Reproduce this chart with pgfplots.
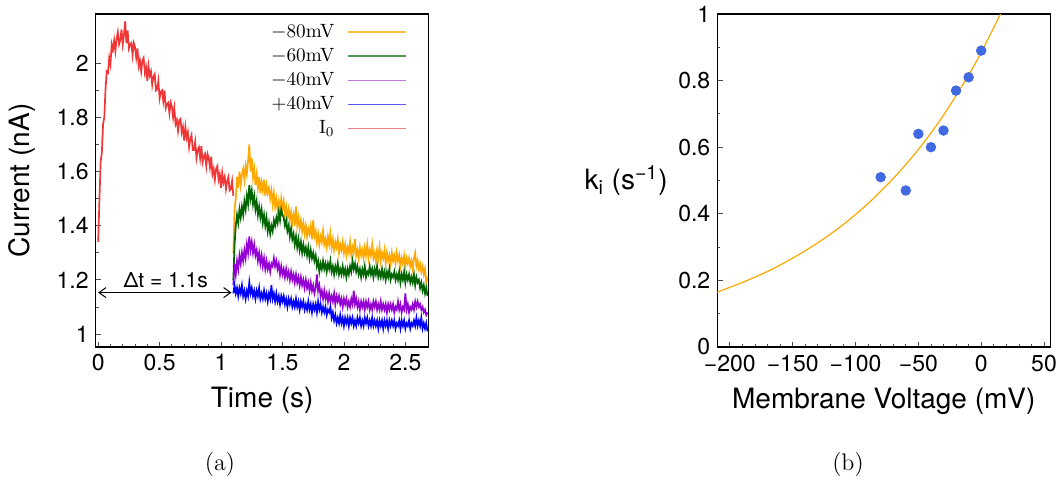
\documentclass[border=0pt]{standalone}
\usepackage{fontspec}
\setmainfont{TeX Gyre Heros}
\newfontfamily\lmr{Latin Modern Roman}
\usepackage{pgfplots}
\pgfplotsset{compat=1.18}
\usetikzlibrary{arrows.meta}

\definecolor{corange}{RGB}{255,168,0}
\definecolor{cgreen}{RGB}{0,100,0}
\definecolor{cpurple}{RGB}{148,0,211}
\definecolor{cblue}{RGB}{0,0,255}
\definecolor{cred}{RGB}{240,55,55}
\definecolor{cdot}{RGB}{65,105,225}
% lighter tones used for the legend samples
\definecolor{lorange}{RGB}{255,190,60}
\definecolor{lgreen}{RGB}{85,150,85}
\definecolor{lpurple}{RGB}{190,120,230}
\definecolor{lblue}{RGB}{90,90,240}
\definecolor{lred}{RGB}{240,130,130}

\pgfplotsset{
  panel/.style={
    scale only axis, width=166.5pt, height=166.5pt,
    anchor=south west,
    axis line style={line width=0.6pt},
    tick align=inside, xtick pos=lower, ytick pos=left,
    major tick length=2.6pt, minor tick length=1.5pt,
    tick style={line width=0.4pt, black!70},
    /pgf/number format/assume math mode=true,
    tick label style={font=\fontsize{11.5}{12}\selectfont},
    label style={font=\fontsize{14}{15}\selectfont},
  },
}

\begin{document}
\begin{tikzpicture}
\useasboundingbox (0,0) rectangle (531.5pt,246.5pt);

% (a) current traces
\begin{axis}[panel, at={(47.85pt,73pt)},
  xmin=-0.02, xmax=2.69, ymin=0.952, ymax=2.182,
  xtick={0,0.5,1,1.5,2,2.5}, minor x tick num=4,
  ytick={1,1.2,1.4,1.6,1.8,2}, minor y tick num=1,
  xlabel={Time (s)}, ylabel={Current (nA)},
  xlabel style={at={(axis description cs:0.5,0)}, anchor=center, yshift=-26.5pt},
  ylabel style={at={(axis description cs:0,0.5)}, anchor=center, yshift=36.6pt},
  legend style={draw=none, fill=none, at={(axis description cs:0.935,0.978)},
    anchor=north east, font=\lmr\fontsize{9.6}{10}\selectfont,
    inner sep=0pt, row sep=1.6pt, column sep=5pt, nodes={inner sep=1.2pt}},
  legend cell align=right, legend plot pos=right,
  legend image post style={xscale=1.7, line width=0.8pt},
  every axis plot/.append style={line width=0.85pt},
]
% I0
\addplot[cred, forget plot] coordinates {
(0.00,1.34)(0.01,1.49)(0.02,1.635)(0.03,1.67)(0.04,1.775)(0.05,1.80)(0.06,1.905)(0.07,1.97)(0.08,1.965)(0.09,2.02)
(0.10,1.995)(0.11,2.07)(0.12,2.05)(0.13,2.085)(0.14,2.045)(0.15,2.09)(0.16,2.115)(0.17,2.07)(0.18,2.085)(0.19,2.125)
(0.20,2.07)(0.21,2.105)(0.22,2.155)(0.23,2.075)(0.24,2.12)(0.25,2.055)(0.26,2.07)(0.27,2.075)(0.28,2.03)(0.29,2.075)
(0.30,2.06)(0.31,2.02)(0.32,2.055)(0.33,1.99)(0.34,2.01)(0.35,1.97)(0.36,2.01)(0.37,2.02)(0.38,1.965)(0.39,1.985)
(0.40,1.935)(0.41,1.99)(0.42,1.955)(0.43,1.97)(0.44,1.92)(0.45,1.95)(0.46,1.96)(0.47,1.90)(0.48,1.905)(0.49,1.935)
(0.50,1.87)(0.51,1.895)(0.52,1.90)(0.53,1.86)(0.54,1.90)(0.55,1.835)(0.56,1.85)(0.57,1.855)(0.58,1.815)(0.59,1.855)
(0.60,1.84)(0.61,1.80)(0.62,1.835)(0.63,1.775)(0.64,1.79)(0.65,1.75)(0.66,1.79)(0.67,1.795)(0.68,1.745)(0.69,1.765)
(0.70,1.715)(0.71,1.765)(0.72,1.725)(0.73,1.745)(0.74,1.69)(0.75,1.72)(0.76,1.735)(0.77,1.68)(0.78,1.68)(0.79,1.71)
(0.80,1.65)(0.81,1.68)(0.82,1.69)(0.83,1.65)(0.84,1.695)(0.85,1.635)(0.86,1.655)(0.87,1.665)(0.88,1.62)(0.89,1.665)
(0.90,1.65)(0.91,1.615)(0.92,1.655)(0.93,1.59)(0.94,1.61)(0.95,1.57)(0.96,1.61)(0.97,1.62)(0.98,1.57)(0.99,1.59)
(1.00,1.54)(1.01,1.595)(1.02,1.56)(1.03,1.58)(1.04,1.535)(1.05,1.565)(1.06,1.58)(1.07,1.53)(1.08,1.535)(1.09,1.565)
(1.10,1.51)};
% -80 mV
\addplot[corange, forget plot] coordinates {
(1.10,1.30)(1.11,1.46)(1.12,1.50)(1.13,1.58)(1.14,1.54)(1.15,1.60)(1.16,1.55)(1.17,1.59)(1.18,1.61)(1.19,1.57)
(1.20,1.62)(1.21,1.59)(1.22,1.64)(1.23,1.70)(1.24,1.60)(1.25,1.65)(1.26,1.58)(1.27,1.61)(1.28,1.55)(1.29,1.59)
(1.30,1.54)(1.31,1.58)(1.32,1.52)(1.33,1.56)(1.34,1.53)(1.35,1.57)(1.36,1.51)(1.37,1.55)(1.38,1.52)(1.39,1.54)
(1.40,1.50)(1.41,1.53)(1.42,1.48)(1.43,1.52)(1.44,1.47)(1.45,1.50)(1.46,1.46)(1.47,1.49)(1.48,1.45)(1.49,1.50)
(1.50,1.46)(1.51,1.49)(1.52,1.44)(1.53,1.47)(1.54,1.43)(1.55,1.46)(1.56,1.42)(1.57,1.45)(1.58,1.41)(1.59,1.44)
(1.60,1.40)(1.61,1.47)(1.62,1.40)(1.63,1.43)(1.64,1.39)(1.65,1.42)(1.66,1.38)(1.67,1.41)(1.68,1.37)(1.69,1.40)
(1.70,1.36)(1.71,1.39)(1.72,1.37)(1.73,1.40)(1.74,1.35)(1.75,1.42)(1.76,1.36)(1.77,1.38)(1.78,1.34)(1.79,1.37)
(1.80,1.33)(1.81,1.36)(1.82,1.34)(1.83,1.38)(1.84,1.33)(1.85,1.35)(1.86,1.32)(1.87,1.36)(1.88,1.33)(1.89,1.37)
(1.90,1.32)(1.91,1.35)(1.92,1.31)(1.93,1.34)(1.94,1.32)(1.95,1.35)(1.96,1.30)(1.97,1.33)(1.98,1.31)(1.99,1.34)
(2.00,1.30)(2.01,1.33)(2.02,1.29)(2.03,1.32)(2.04,1.30)(2.05,1.34)(2.06,1.29)(2.07,1.32)(2.08,1.30)(2.09,1.35)
(2.10,1.29)(2.11,1.31)(2.12,1.28)(2.13,1.32)(2.14,1.29)(2.15,1.31)(2.16,1.28)(2.17,1.32)(2.18,1.29)(2.19,1.33)
(2.20,1.28)(2.21,1.31)(2.22,1.29)(2.23,1.33)(2.24,1.28)(2.25,1.30)(2.26,1.27)(2.27,1.31)(2.28,1.28)(2.29,1.32)
(2.30,1.27)(2.31,1.30)(2.32,1.28)(2.33,1.31)(2.34,1.26)(2.35,1.30)(2.36,1.27)(2.37,1.29)(2.38,1.26)(2.39,1.30)
(2.40,1.27)(2.41,1.29)(2.42,1.26)(2.43,1.30)(2.44,1.27)(2.45,1.29)(2.46,1.25)(2.47,1.28)(2.48,1.26)(2.49,1.29)
(2.50,1.25)(2.51,1.28)(2.52,1.26)(2.53,1.28)(2.54,1.25)(2.55,1.27)(2.56,1.24)(2.57,1.28)(2.58,1.30)(2.59,1.25)
(2.60,1.27)(2.61,1.24)(2.62,1.26)(2.63,1.23)(2.64,1.25)(2.65,1.22)(2.66,1.24)(2.67,1.19)(2.68,1.21)};
% -60 mV
\addplot[cgreen, forget plot] coordinates {
(1.10,1.20)(1.11,1.33)(1.12,1.40)(1.13,1.44)(1.14,1.41)(1.15,1.46)(1.16,1.43)(1.17,1.47)(1.18,1.44)(1.19,1.49)
(1.20,1.46)(1.21,1.51)(1.22,1.48)(1.23,1.55)(1.24,1.50)(1.25,1.53)(1.26,1.48)(1.27,1.51)(1.28,1.46)(1.29,1.49)
(1.30,1.44)(1.31,1.47)(1.32,1.43)(1.33,1.46)(1.34,1.41)(1.35,1.44)(1.36,1.40)(1.37,1.43)(1.38,1.38)(1.39,1.41)
(1.40,1.37)(1.41,1.40)(1.42,1.38)(1.43,1.42)(1.44,1.40)(1.45,1.43)(1.46,1.41)(1.47,1.45)(1.48,1.42)(1.49,1.46)
(1.50,1.44)(1.51,1.43)(1.52,1.40)(1.53,1.42)(1.54,1.38)(1.55,1.40)(1.56,1.36)(1.57,1.39)(1.58,1.35)(1.59,1.37)
(1.60,1.33)(1.61,1.36)(1.62,1.32)(1.63,1.35)(1.64,1.31)(1.65,1.34)(1.66,1.30)(1.67,1.33)(1.68,1.30)(1.69,1.32)
(1.70,1.29)(1.71,1.32)(1.72,1.28)(1.73,1.31)(1.74,1.28)(1.75,1.30)(1.76,1.27)(1.77,1.29)(1.78,1.25)(1.79,1.27)
(1.80,1.23)(1.81,1.26)(1.82,1.24)(1.83,1.27)(1.84,1.24)(1.85,1.26)(1.86,1.23)(1.87,1.26)(1.88,1.24)(1.89,1.27)
(1.90,1.23)(1.91,1.25)(1.92,1.22)(1.93,1.25)(1.94,1.23)(1.95,1.26)(1.96,1.22)(1.97,1.24)(1.98,1.22)(1.99,1.25)
(2.00,1.22)(2.01,1.24)(2.02,1.21)(2.03,1.24)(2.04,1.22)(2.05,1.25)(2.06,1.23)(2.07,1.27)(2.08,1.24)(2.09,1.26)
(2.10,1.23)(2.11,1.25)(2.12,1.22)(2.13,1.24)(2.14,1.21)(2.15,1.24)(2.16,1.22)(2.17,1.25)(2.18,1.21)(2.19,1.23)
(2.20,1.22)(2.21,1.25)(2.22,1.22)(2.23,1.24)(2.24,1.21)(2.25,1.24)(2.26,1.22)(2.27,1.25)(2.28,1.21)(2.29,1.23)
(2.30,1.21)(2.31,1.24)(2.32,1.21)(2.33,1.23)(2.34,1.20)(2.35,1.23)(2.36,1.21)(2.37,1.24)(2.38,1.20)(2.39,1.22)
(2.40,1.21)(2.41,1.23)(2.42,1.20)(2.43,1.22)(2.44,1.20)(2.45,1.23)(2.46,1.19)(2.47,1.22)(2.48,1.20)(2.49,1.23)
(2.50,1.19)(2.51,1.22)(2.52,1.20)(2.53,1.22)(2.54,1.19)(2.55,1.21)(2.56,1.19)(2.57,1.22)(2.58,1.18)(2.59,1.21)
(2.60,1.19)(2.61,1.20)(2.62,1.17)(2.63,1.19)(2.64,1.16)(2.65,1.18)(2.66,1.15)(2.67,1.17)(2.68,1.14)};
% -40 mV
\addplot[cpurple, forget plot] coordinates {
(1.10,1.18)(1.11,1.26)(1.12,1.22)(1.13,1.27)(1.14,1.24)(1.15,1.29)(1.16,1.26)(1.17,1.30)(1.18,1.27)(1.19,1.31)
(1.20,1.28)(1.21,1.33)(1.22,1.30)(1.23,1.36)(1.24,1.31)(1.25,1.34)(1.26,1.30)(1.27,1.33)(1.28,1.29)(1.29,1.31)
(1.30,1.27)(1.31,1.30)(1.32,1.26)(1.33,1.29)(1.34,1.25)(1.35,1.28)(1.36,1.24)(1.37,1.27)(1.38,1.24)(1.39,1.26)
(1.40,1.23)(1.41,1.26)(1.42,1.25)(1.43,1.28)(1.44,1.25)(1.45,1.27)(1.46,1.24)(1.47,1.26)(1.48,1.22)(1.49,1.25)
(1.50,1.22)(1.51,1.24)(1.52,1.21)(1.53,1.24)(1.54,1.21)(1.55,1.23)(1.56,1.20)(1.57,1.23)(1.58,1.20)(1.59,1.22)
(1.60,1.19)(1.61,1.22)(1.62,1.19)(1.63,1.21)(1.64,1.18)(1.65,1.21)(1.66,1.18)(1.67,1.20)(1.68,1.17)(1.69,1.20)
(1.70,1.17)(1.71,1.19)(1.72,1.16)(1.73,1.19)(1.74,1.16)(1.75,1.18)(1.76,1.15)(1.77,1.17)(1.78,1.22)(1.79,1.16)
(1.80,1.18)(1.81,1.14)(1.82,1.16)(1.83,1.13)(1.84,1.16)(1.85,1.13)(1.86,1.15)(1.87,1.12)(1.88,1.15)(1.89,1.12)
(1.90,1.14)(1.91,1.12)(1.92,1.15)(1.93,1.11)(1.94,1.14)(1.95,1.12)(1.96,1.14)(1.97,1.11)(1.98,1.13)(1.99,1.10)
(2.00,1.13)(2.01,1.11)(2.02,1.13)(2.03,1.10)(2.04,1.12)(2.05,1.10)(2.06,1.13)(2.07,1.11)(2.08,1.16)(2.09,1.11)
(2.10,1.13)(2.11,1.10)(2.12,1.12)(2.13,1.09)(2.14,1.12)(2.15,1.10)(2.16,1.12)(2.17,1.09)(2.18,1.12)(2.19,1.10)
(2.20,1.12)(2.21,1.09)(2.22,1.11)(2.23,1.09)(2.24,1.12)(2.25,1.10)(2.26,1.12)(2.27,1.09)(2.28,1.11)(2.29,1.09)
(2.30,1.12)(2.31,1.09)(2.32,1.11)(2.33,1.09)(2.34,1.11)(2.35,1.08)(2.36,1.11)(2.37,1.09)(2.38,1.11)(2.39,1.09)
(2.40,1.11)(2.41,1.08)(2.42,1.10)(2.43,1.09)(2.44,1.12)(2.45,1.09)(2.46,1.11)(2.47,1.08)(2.48,1.10)(2.49,1.09)
(2.50,1.15)(2.51,1.09)(2.52,1.11)(2.53,1.08)(2.54,1.10)(2.55,1.09)(2.56,1.11)(2.57,1.09)(2.58,1.12)(2.59,1.10)
(2.60,1.12)(2.61,1.10)(2.62,1.11)(2.63,1.09)(2.64,1.10)(2.65,1.08)(2.66,1.09)(2.67,1.07)(2.68,1.08)};
% +40 mV
\addplot[cblue, forget plot] coordinates {
(1.10,1.15)(1.11,1.18)(1.12,1.15)(1.13,1.17)(1.14,1.14)(1.15,1.17)(1.16,1.15)(1.17,1.18)(1.18,1.14)(1.19,1.16)
(1.20,1.13)(1.21,1.16)(1.22,1.14)(1.23,1.19)(1.24,1.15)(1.25,1.17)(1.26,1.14)(1.27,1.16)(1.28,1.13)(1.29,1.16)
(1.30,1.14)(1.31,1.17)(1.32,1.13)(1.33,1.15)(1.34,1.13)(1.35,1.16)(1.36,1.13)(1.37,1.15)(1.38,1.12)(1.39,1.15)
(1.40,1.13)(1.41,1.18)(1.42,1.13)(1.43,1.15)(1.44,1.12)(1.45,1.15)(1.46,1.12)(1.47,1.14)(1.48,1.11)(1.49,1.14)
(1.50,1.12)(1.51,1.14)(1.52,1.11)(1.53,1.13)(1.54,1.10)(1.55,1.13)(1.56,1.11)(1.57,1.13)(1.58,1.10)(1.59,1.12)
(1.60,1.10)(1.61,1.13)(1.62,1.10)(1.63,1.12)(1.64,1.09)(1.65,1.12)(1.66,1.10)(1.67,1.12)(1.68,1.09)(1.69,1.11)
(1.70,1.09)(1.71,1.12)(1.72,1.09)(1.73,1.11)(1.74,1.08)(1.75,1.11)(1.76,1.09)(1.77,1.11)(1.78,1.08)(1.79,1.12)
(1.80,1.09)(1.81,1.11)(1.82,1.08)(1.83,1.10)(1.84,1.08)(1.85,1.10)(1.86,1.07)(1.87,1.09)(1.88,1.08)(1.89,1.10)
(1.90,1.06)(1.91,1.08)(1.92,1.05)(1.93,1.07)(1.94,1.04)(1.95,1.06)(1.96,1.04)(1.97,1.07)(1.98,1.04)(1.99,1.06)
(2.00,1.03)(2.01,1.06)(2.02,1.04)(2.03,1.06)(2.04,1.03)(2.05,1.06)(2.06,1.04)(2.07,1.06)(2.08,1.03)(2.09,1.05)
(2.10,1.03)(2.11,1.06)(2.12,1.04)(2.13,1.06)(2.14,1.03)(2.15,1.05)(2.16,1.03)(2.17,1.06)(2.18,1.04)(2.19,1.06)
(2.20,1.03)(2.21,1.05)(2.22,1.03)(2.23,1.06)(2.24,1.03)(2.25,1.05)(2.26,1.03)(2.27,1.05)(2.28,1.02)(2.29,1.05)
(2.30,1.03)(2.31,1.05)(2.32,1.02)(2.33,1.05)(2.34,1.03)(2.35,1.05)(2.36,1.02)(2.37,1.05)(2.38,1.03)(2.39,1.05)
(2.40,1.03)(2.41,1.05)(2.42,1.02)(2.43,1.04)(2.44,1.03)(2.45,1.05)(2.46,1.02)(2.47,1.05)(2.48,1.03)(2.49,1.05)
(2.50,1.02)(2.51,1.04)(2.52,1.03)(2.53,1.05)(2.54,1.02)(2.55,1.04)(2.56,1.03)(2.57,1.05)(2.58,1.03)(2.59,1.06)
(2.60,1.03)(2.61,1.05)(2.62,1.03)(2.63,1.06)(2.64,1.02)(2.65,1.04)(2.66,1.02)(2.67,1.04)(2.68,1.01)};

\addlegendimage{color=lorange}\addlegendentry{$-$80mV}
\addlegendimage{color=lgreen}\addlegendentry{$-$60mV}
\addlegendimage{color=lpurple}\addlegendentry{$-$40mV}
\addlegendimage{color=lblue}\addlegendentry{+40mV}
\addlegendimage{color=lred}\addlegendentry{I\textsubscript{0}}

\draw[{Straight Barb[length=3.5pt,width=5pt]}-{Straight Barb[length=3.5pt,width=5pt]}, line width=0.5pt]
  (axis cs:0,1.153) -- (axis cs:1.085,1.153);
\node[font=\fontsize{10.5}{11}\selectfont] at (axis cs:0.55,1.198) {Δt = 1.1s};
\end{axis}

% (b) rate vs voltage
\begin{axis}[panel, at={(358.65pt,73pt)},
  xmin=-210, xmax=55, ymin=0, ymax=1,
  xtick={-200,-150,-100,-50,0,50},
  xticklabels={−200,−150,−100,−50,0,50},
  minor x tick num=4,
  ytick={0,0.2,0.4,0.6,0.8,1}, minor y tick num=1,
  xlabel={Membrane Voltage (mV)},
  ylabel={k\textsubscript{i} (s\textsuperscript{−1})},
  xlabel style={at={(axis description cs:0.5,0)}, anchor=center, yshift=-27pt},
  ylabel style={at={(axis description cs:0,0.5)}, anchor=center, rotate=-90, xshift=-45.6pt},
  xticklabel style={yshift=-0.6pt},
]
\addplot[corange, line width=0.6pt, smooth] coordinates {
(-210,0.165)(-190,0.194)(-170,0.227)(-150,0.267)(-130,0.313)(-110,0.367)
(-90,0.431)(-70,0.506)(-50,0.593)(-30,0.696)(-10,0.817)(0,0.885)(10,0.959)(15.3,1.0)};
\addplot[only marks, mark=*, mark size=2.4pt, cdot, mark options={draw=cdot, fill=cdot}] coordinates {
(-80,0.51)(-60,0.47)(-50,0.64)(-40,0.60)(-30,0.65)(-20,0.77)(-10,0.81)(0,0.89)};
\end{axis}

\node[font=\lmr\fontsize{12}{13}\selectfont] at (110pt,14pt) {(a)};
\node[font=\lmr\fontsize{12}{13}\selectfont] at (424pt,14pt) {(b)};
\end{tikzpicture}
\end{document}
